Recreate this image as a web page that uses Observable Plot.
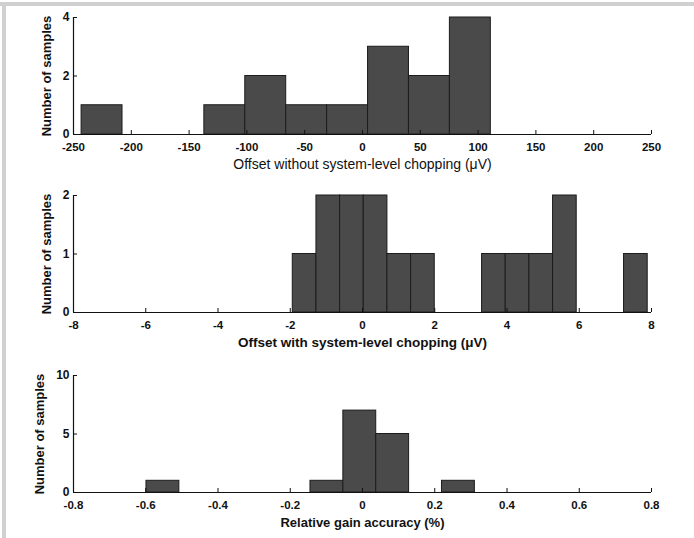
<!DOCTYPE html>
<html><head><meta charset="utf-8">
<script src="https://cdn.jsdelivr.net/npm/d3@7"></script>
<script src="https://cdn.jsdelivr.net/npm/@observablehq/plot@0.6"></script>
<style>
body{margin:0;background:#fff;width:694px;height:538px;overflow:hidden;position:relative;font-family:"Liberation Sans",Arial,sans-serif;}
#frameTop{position:absolute;left:0;top:2px;width:694px;height:4px;background:#d0d0d0;}
#frameLeft{position:absolute;left:2px;top:2px;width:4px;height:536px;background:#d0d0d0;}
.panel{position:absolute;left:0;}
</style></head><body>
<div id="frameTop"></div><div id="frameLeft"></div>
<div id="p1" class="panel" style="top:0px"></div>
<div id="p2" class="panel" style="top:178px"></div>
<div id="p3" class="panel" style="top:358px"></div>
<script>
// Panel 1: offset without system-level chopping (µV)
const offsetNoChopEdges = [-243, -207.6, -172.2, -136.8, -101.4, -66, -30.6, 4.8, 40.2, 75.6, 111];
const offsetNoChopCounts = [1, 0, 0, 1, 2, 1, 1, 3, 2, 4];
const offsetNoChopXTicks = [-250, -200, -150, -100, -50, 0, 50, 100, 150, 200, 250];
const offsetNoChopYTicks = [0, 2, 4];

// Panel 2: offset with system-level chopping (µV)
const offsetChopEdges = [-1.93, -1.275, -0.62, 0.035, 0.69, 1.345, 2.0, 2.655, 3.31, 3.965, 4.62, 5.275, 5.93, 6.585, 7.24, 7.895];
const offsetChopCounts = [1, 2, 2, 2, 1, 1, 0, 0, 1, 1, 1, 2, 0, 0, 1];
const offsetChopXTicks = [-8, -6, -4, -2, 0, 2, 4, 6, 8];
const offsetChopYTicks = [0, 1, 2];

// Panel 3: relative gain accuracy (%)
const gainEdges = [-0.598, -0.507, -0.416, -0.325, -0.234, -0.144, -0.053, 0.038, 0.129, 0.220, 0.311];
const gainCounts = [1, 0, 0, 0, 0, 1, 7, 5, 0, 1];
const gainXTicks = [-0.8, -0.6, -0.4, -0.2, 0, 0.2, 0.4, 0.6, 0.8];
const gainYTicks = [0, 5, 10];

const W = 694, H = 180, ML = 73, MR = 43, MT = 17, MB = 46;
const plotW = W - ML - MR, plotH = H - MT - MB;
const FONT = "'Liberation Sans', Arial, sans-serif";

function panel(edges, counts, xTicks, yTicks, xLabel, xLabelStyle, yLabelDx) {
  const bins = counts.map((c, i) => ({x1: edges[i], x2: edges[i + 1], y: c})).filter(d => d.y > 0);
  const xDomain = [xTicks[0], xTicks[xTicks.length - 1]];
  const yDomain = [yTicks[0], yTicks[yTicks.length - 1]];
  return Plot.plot({
    width: W, height: H,
    marginLeft: ML, marginRight: MR, marginTop: MT, marginBottom: MB,
    x: {domain: xDomain},
    y: {domain: yDomain},
    style: {fontFamily: FONT, background: "transparent", color: "#111", overflow: "visible"},
    marks: [
      Plot.rectY(bins, {x1: "x1", x2: "x2", y: "y", fill: "#4a4a4a", stroke: "#1c1c1c", strokeWidth: 1}),
      Plot.ruleY([yDomain[0]], {stroke: "#111", strokeWidth: 1.2}),
      Plot.ruleX([xDomain[0]], {stroke: "#111", strokeWidth: 1.2}),
      Plot.tickX(xTicks, {x: d => d, insetTop: plotH - 4, stroke: "#111"}),
      Plot.tickY(yTicks, {y: d => d, insetRight: plotW - 4, stroke: "#111"}),
      Plot.axisX(xTicks, {tickSize: 0, tickPadding: 8, tickFormat: d => String(d), fontSize: 11.5, fontWeight: "bold", label: null}),
      Plot.axisY(yTicks, {tickSize: 0, tickPadding: 4, tickFormat: d => String(d), fontSize: 12, fontWeight: "bold", label: null}),
      Plot.text([xLabel], {frameAnchor: "bottom", dy: 30, text: d => d, fontSize: xLabelStyle.size, fontWeight: xLabelStyle.weight, lineAnchor: "middle", fill: "#111"}),
      Plot.text(["Number of samples"], {frameAnchor: "left", dx: yLabelDx, text: d => d, rotate: -90, fontSize: 13, fontWeight: "bold", lineAnchor: "middle", textAnchor: "middle", fill: "#111"})
    ]
  });
}

document.getElementById("p1").append(panel(offsetNoChopEdges, offsetNoChopCounts, offsetNoChopXTicks, offsetNoChopYTicks,
  "Offset without system-level chopping (\u03bcV)", {size: 14, weight: "normal"}, -27));
document.getElementById("p2").append(panel(offsetChopEdges, offsetChopCounts, offsetChopXTicks, offsetChopYTicks,
  "Offset with system-level chopping (\u03bcV)", {size: 13.5, weight: "bold"}, -27));
document.getElementById("p3").append(panel(gainEdges, gainCounts, gainXTicks, gainYTicks,
  "Relative gain accuracy (%)", {size: 13, weight: "bold"}, -34));
</script>
</body></html>
